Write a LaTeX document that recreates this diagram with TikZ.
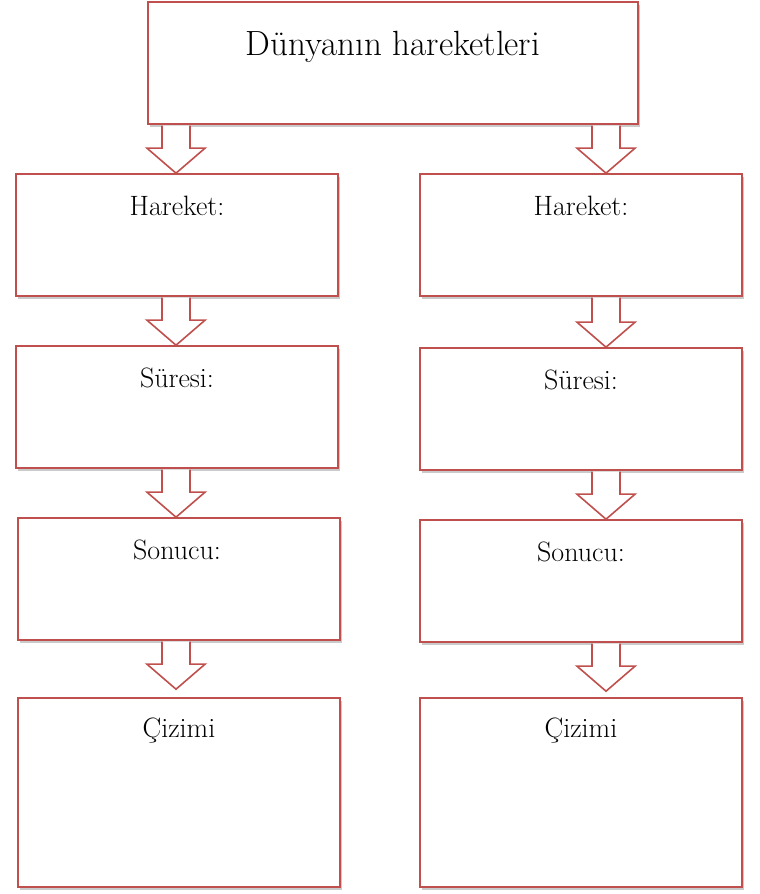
\documentclass[tikz,border=0pt]{standalone}
\usepackage{fontspec}
\usetikzlibrary{calc,shadows}
\definecolor{boxred}{HTML}{C0504D}
\tikzset{
  x=1pt, y=1pt,
  box/.style={draw=boxred, line width=1.6pt, fill=white, rectangle, inner sep=0pt,
    drop shadow={shadow xshift=2pt, shadow yshift=-3pt, opacity=0.35, fill=black!60}},
  lbl/.style={font=\fontsize{28}{32}\selectfont, inner sep=0pt, text=black},
  ttl/.style={font=\fontsize{35}{40}\selectfont, inner sep=0pt, text=black},
  barrow/.style={draw=boxred, line width=1.6pt, fill=white, line join=miter},
}
% #1 from node, #2 to node, #3 x centre, #4 gap above target
\newcommand{\blockarrow}[4]{%
  \draw[barrow] let \p1=(#1.south), \p2=(#2.north) in
    (#3pt-14pt,\y1-0.8pt) -- (#3pt-14pt,\y2+#4pt+25pt) -- (#3pt-29pt,\y2+#4pt+25pt)
    -- (#3pt,\y2+#4pt) -- (#3pt+29pt,\y2+#4pt+25pt) -- (#3pt+14pt,\y2+#4pt+25pt)
    -- (#3pt+14pt,\y1-0.8pt);
}
\begin{document}
\begin{tikzpicture}
\useasboundingbox (0,0) rectangle (760,894);
% boxes
\node[box, minimum width=490, minimum height=122] (top) at (393,831) {};
\node[box, minimum width=322, minimum height=122] (l1) at (177,659) {};
\node[box, minimum width=322, minimum height=122] (l2) at (177,487) {};
\node[box, minimum width=322, minimum height=122] (l3) at (179,315) {};
\node[box, minimum width=322, minimum height=189] (l4) at (179,101.5) {};
\node[box, minimum width=322, minimum height=122] (r1) at (581,659) {};
\node[box, minimum width=322, minimum height=122] (r2) at (581,485) {};
\node[box, minimum width=322, minimum height=122] (r3) at (581,313) {};
\node[box, minimum width=322, minimum height=189] (r4) at (581,101.5) {};
% labels
\node[ttl] (ttop) at ($(top.north)+(0,-46)$) {Dünyanın hareketleri};
\node[lbl] (tl1) at ($(l1.north)+(0,-33)$) {Hareket:};
\node[lbl] (tl2) at ($(l2.north)+(0,-33)$) {Süresi:};
\node[lbl] (tl3) at ($(l3.north)+(-2,-33)$) {Sonucu:};
\node[lbl] (tl4) at ($(l4.north)+(0,-33)$) {Çizimi};
\node[lbl] (tr1) at ($(r1.north)+(0,-33)$) {Hareket:};
\node[lbl] (tr2) at ($(r2.north)+(0,-33)$) {Süresi:};
\node[lbl] (tr3) at ($(r3.north)+(0,-33)$) {Sonucu:};
\node[lbl] (tr4) at ($(r4.north)+(0,-33)$) {Çizimi};
% block arrows
\blockarrow{top}{l1}{176}{0}
\blockarrow{top}{r1}{606}{0}
\blockarrow{l1}{l2}{176}{0}
\blockarrow{l2}{l3}{176}{0}
\blockarrow{l3}{l4}{176}{8}
\blockarrow{r1}{r2}{606}{0}
\blockarrow{r2}{r3}{606}{0}
\blockarrow{r3}{r4}{606}{6}
\end{tikzpicture}
\end{document}
